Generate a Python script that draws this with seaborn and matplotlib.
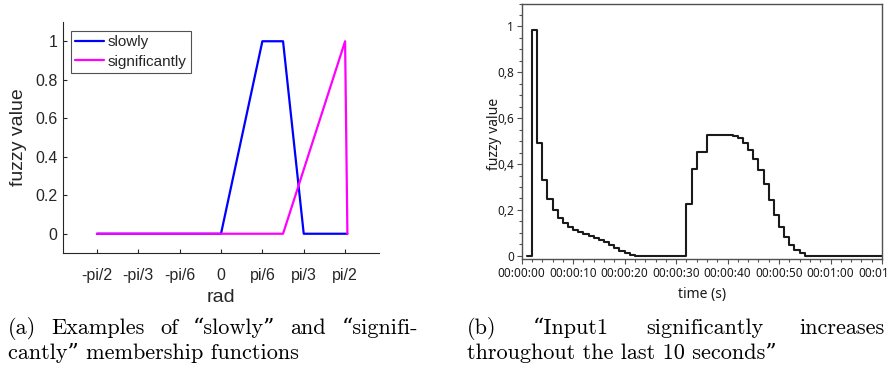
import matplotlib
matplotlib.use("Agg")
import matplotlib.pyplot as plt
import matplotlib.ticker as mticker
import matplotlib.transforms as mtransforms
import numpy as np
import seaborn as sns
import pandas as pd

# (a) membership functions, x in rad
slowly_x = [-np.pi / 2, 0, np.pi / 6, np.pi / 4, np.pi / 3, 1.6]
slowly_y = [0, 0, 1, 1, 0, 0]
signif_x = [-np.pi / 2, np.pi / 4, np.pi / 2, 1.6]
signif_y = [0, 0, 1, 0]
rad_ticks = [-np.pi / 2, -np.pi / 3, -np.pi / 6, 0, np.pi / 6, np.pi / 3, np.pi / 2]
rad_labels = ["-pi/2", "-pi/3", "-pi/6", "0", "pi/6", "pi/3", "pi/2"]
fuzzy_ticks = [0, 0.2, 0.4, 0.6, 0.8, 1]
fuzzy_labels = ["0", "0.2", "0.4", "0.6", "0.8", "1"]

# (b) fuzzy value of the rule, one value per second
time_s = list(range(1, 71))
fuzzy_val = [0, 0.983, 0.493, 0.329, 0.246, 0.199, 0.164, 0.142, 0.125, 0.113,
             0.104, 0.097, 0.088, 0.078, 0.068, 0.058, 0.046, 0.035, 0.023, 0.012,
             0.003, 0, 0, 0, 0, 0, 0, 0, 0, 0,
             0, 0.226, 0.377, 0.452, 0.452, 0.528, 0.528, 0.528, 0.528, 0.527,
             0.524, 0.515, 0.493, 0.461, 0.423, 0.373, 0.313, 0.245, 0.178, 0.126,
             0.080, 0.046, 0.025, 0.010, 0, 0, 0, 0, 0, 0,
             0, 0, 0, 0, 0, 0, 0, 0, 0, 0]

cap_a1 = ["(a)", "Examples", "of", "\u201cslowly\u201d", "and", "\u201csignifi-"]
cap_a2 = "cantly\u201d membership functions"
cap_b1 = ["(b)", "\u201cInput1", "significantly", "increases"]
cap_b2 = "throughout the last 10 seconds\u201d"

sns.set_style("white")
plt.rcParams["font.family"] = ["Liberation Sans", "DejaVu Sans"]

fig = plt.figure(figsize=(8.88, 3.75), dpi=100)
W, H = 888, 375

# ---------- left panel ----------
ax1 = fig.add_axes([63 / W, 1 - 253 / H, (379 - 63) / W, (253 - 22) / H])
df_a = pd.concat([
    pd.DataFrame({"rad": slowly_x, "fuzzy": slowly_y, "fn": "slowly"}),
    pd.DataFrame({"rad": signif_x, "fuzzy": signif_y, "fn": "significantly"}),
], ignore_index=True)
sns.lineplot(df_a, x="rad", y="fuzzy", hue="fn", sort=False, ax=ax1,
             palette={"slowly": "#0000ff", "significantly": "#ff00ff"}, lw=1.6)
ax1.set_xlim(-2, 2)
ax1.set_ylim(-0.1, 1.1)
ax1.set_xticks(rad_ticks, rad_labels)
ax1.set_yticks(fuzzy_ticks, fuzzy_labels)
mat_col = "#262626"
for s in ["top", "right"]:
    ax1.spines[s].set_visible(False)
for s in ["left", "bottom"]:
    ax1.spines[s].set_color(mat_col)
    ax1.spines[s].set_linewidth(0.8)
ax1.tick_params(direction="in", length=3, width=0.8, color=mat_col,
                labelcolor=mat_col, labelsize=11.5, left=True, bottom=True)
ax1.tick_params(axis="x", pad=11)
ax1.tick_params(axis="y", pad=4)
ax1.set_xlabel("rad", fontsize=14, color=mat_col, labelpad=4)
ax1.set_ylabel("fuzzy value", fontsize=14, color=mat_col)
ax1.yaxis.set_label_coords(-0.114, 0.5)
sns.move_legend(ax1, "upper left", bbox_to_anchor=(0.024, 0.962), title=None,
                frameon=True, fancybox=False, edgecolor=mat_col, fontsize=11,
                borderaxespad=0, borderpad=0.3, labelspacing=0.35,
                handlelength=1.9, handletextpad=0.25)
ax1.get_legend().get_frame().set_linewidth(0.8)
ax1.get_legend().get_frame().set_facecolor("white")

# ---------- right panel ----------
ax2 = fig.add_axes([521.7 / W, 1 - 259 / H, (882 - 521.7) / W, (259 - 3.5) / H])
df_b = pd.DataFrame({"t": time_s, "v": fuzzy_val})
sns.lineplot(df_b, x="t", y="v", ax=ax2, color="#1a1a1a", lw=1.5,
             drawstyle="steps-post")
ax2.set_xlim(0, 70)
ax2.set_ylim(-0.014, 1.1)
grey = "#505050"
for s in ax2.spines.values():
    s.set_visible(True)
    s.set_color(grey)
    s.set_linewidth(1.0)
ax2.xaxis.set_major_locator(mticker.MultipleLocator(10))
ax2.xaxis.set_minor_locator(mticker.MultipleLocator(2))
ax2.yaxis.set_major_locator(mticker.MultipleLocator(0.2))
ax2.yaxis.set_minor_locator(mticker.MultipleLocator(0.05))
ax2.xaxis.set_major_formatter(mticker.FuncFormatter(
    lambda v, p: "%02d:%02d:%02d" % (int(v) // 3600, (int(v) // 60) % 60, int(v) % 60)))
ax2.yaxis.set_major_formatter(mticker.FuncFormatter(
    lambda v, p: ("%g" % round(v, 2)).replace(".", ",")))
ax2.tick_params(which="both", direction="out", color=grey, width=0.8,
                left=True, bottom=True, labelsize=8.5, labelcolor="#1a1a1a")
ax2.tick_params(which="major", length=3.5)
ax2.tick_params(which="minor", length=2)
ax2.tick_params(axis="y", pad=2)
ax2.tick_params(axis="x", pad=2)
for lab in ax2.get_xticklabels() + ax2.get_yticklabels():
    lab.set_fontfamily(["Noto Sans", "DejaVu Sans"])
ax2.set_xlabel("time (s)", fontsize=10, family=["Noto Sans", "DejaVu Sans"],
               color="#1a1a1a", labelpad=5)
ax2.set_ylabel("fuzzy value", fontsize=10, family=["Noto Sans", "DejaVu Sans"],
               color="#1a1a1a")
ax2.yaxis.set_label_coords(-0.056, 0.49)

# ---------- captions ----------
cap_font = dict(family=["cmr10", "DejaVu Serif"], fontsize=16, color="black",
                va="baseline", ha="left", transform=mtransforms.IdentityTransform())
renderer = fig.canvas.get_renderer()


def justify(words, x0, x1, y):
    texts = [fig.text(0, y, w, **cap_font) for w in words]
    widths = [t.get_window_extent(renderer).width for t in texts]
    gap = (x1 - x0 - sum(widths)) / (len(words) - 1)
    x = x0
    for t, w in zip(texts, widths):
        t.set_x(x)
        x += w + gap


justify(cap_a1, 8, 418, H - 334)
fig.text(8, H - 359, cap_a2, **cap_font)
justify(cap_b1, 467, 885, H - 334)
fig.text(467, H - 359, cap_b2, **cap_font)

fig.savefig("out.png", dpi=100)
